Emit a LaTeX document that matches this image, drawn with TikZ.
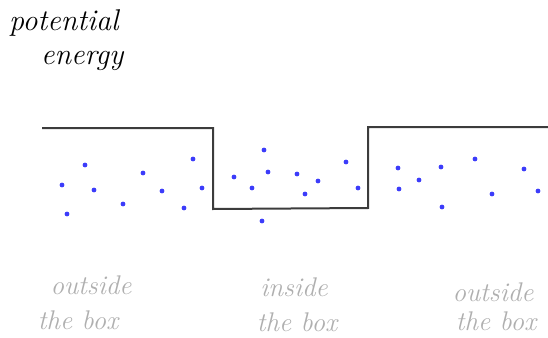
\documentclass[tikz,border=0pt]{standalone}
\usepackage{xcolor}
\definecolor{wellline}{RGB}{60,60,60}
\definecolor{particle}{RGB}{60,60,250}
\definecolor{labelgray}{RGB}{175,175,175}
\begin{document}
\begin{tikzpicture}[x=1pt,y=-1pt,
  wall/.style={draw=wellline,line width=2pt,line join=miter},
  dot/.style={fill=particle},
  title/.style={font=\fontsize{30}{30}\selectfont\itshape,inner sep=0pt,anchor=base west},
  region/.style={font=\fontsize{27}{27}\selectfont\itshape,text=labelgray,inner sep=0pt,anchor=base}]
\useasboundingbox (0,0) rectangle (548,337);

% axis label
\node[title] (pot) at (9,31) {potential};
\node[title] (ene) at (41,64) {energy};

% potential well profile
\draw[wall] (42,128) -- (213,128) -- (213,209) -- (368,208) -- (368,127) -- (548,127);

% particles
\foreach \p in {(85,165),(193,159),(143,173),(62,185),(94,190),(162,191),(202,188),
                (123,204),(184,208),(67,214),
                (264,150),(234,177),(268,172),(297,174),(346,162),(318,181),(252,188),
                (305,194),(358,188),(262,221),
                (398,168),(441,167),(475,159),(524,169),(419,180),(399,189),(492,194),
                (538,191),(442,207)}
  \fill[dot] \p circle (2.4);

% region labels
\node[region] (outL1) at (91,294) {outside};
\node[region] (outL2) at (78,329) {the box};
\node[region] (in1) at (294,296) {inside};
\node[region] (in2) at (297,331) {the box};
\node[region] (outR1) at (493,301) {outside};
\node[region] (outR2) at (496,330) {the box};
\end{tikzpicture}
\end{document}
